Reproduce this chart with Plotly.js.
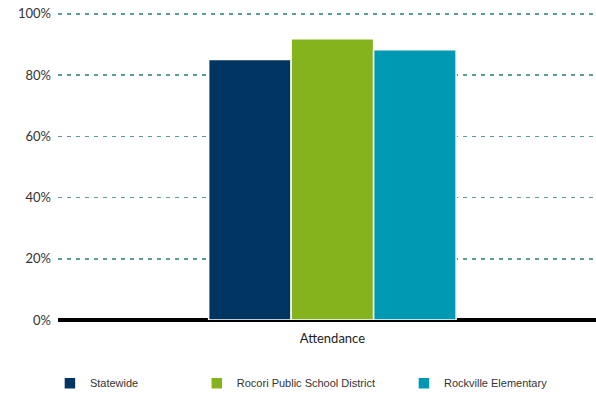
<!DOCTYPE html>
<html>
<head>
<meta charset="utf-8">
<script src="https://cdn.plot.ly/plotly-3.0.1.min.js"></script>
<style>html,body{margin:0;padding:0;background:#fff;}#chart{width:596px;height:398px;}</style>
</head>
<body>
<div id="chart"></div>
<script>
const categories = ["Attendance"];
const seriesNames = ["Statewide", "Rocori Public School District", "Rockville Elementary"];
const statewide = [85.1];
const rocori = [91.9];
const rockville = [88.3];
const yTickVals = [0, 20, 40, 60, 80, 100];
const yTickText = ["0%", "20%", "40%", "60%", "80%", "100%"];

const colors = ["#003562", "#84b31e", "#0099b3"];
const values = [statewide, rocori, rockville];
const legendIds = ["legend", "legend2", "legend3"];

const traces = seriesNames.map((name, i) => ({
  type: "bar",
  name: name,
  x: categories,
  y: values[i],
  marker: { color: colors[i], line: { color: "#ffffff", width: 1.5 } },
  legend: legendIds[i],
  hoverinfo: "skip"
}));

const legendFont = { family: "Liberation Sans, Arial, sans-serif", size: 11, color: "#333333" };
const mkLegend = (x) => ({
  x: x, y: -0.205, xanchor: "left", yanchor: "middle",
  orientation: "h", font: legendFont, bgcolor: "rgba(0,0,0,0)",
  itemwidth: 30, borderwidth: 0
});

const layout = {
  width: 596, height: 398,
  margin: { l: 58, r: 0, t: 12, b: 73, pad: 0 },
  paper_bgcolor: "#ffffff", plot_bgcolor: "#ffffff",
  barmode: "group", bargap: 0.54, bargroupgap: 0,
  showlegend: true,
  legend: mkLegend(-0.015),
  legend2: mkLegend(0.258),
  legend3: mkLegend(0.643),
  xaxis: {
    type: "category", range: [-0.51, 0.49],
    showgrid: false, showline: false, zeroline: false,
    ticks: "", ticklen: 0, ticklabelstandoff: 9,
    tickfont: { family: "Lato, Carlito, sans-serif", size: 13, color: "#222222" },
    fixedrange: true
  },
  yaxis: {
    range: [0, 100.6], tickvals: yTickVals, ticktext: yTickText,
    showgrid: true, gridcolor: "#5b9b98", gridwidth: 1.6, griddash: "4px,5px",
    zeroline: true, zerolinecolor: "#000000", zerolinewidth: 4,
    showline: false, ticks: "", ticklabelstandoff: 6,
    tickfont: { family: "Lato, Carlito, sans-serif", size: 13, color: "#333333" },
    fixedrange: true
  }
};

Plotly.newPlot("chart", traces, layout, { displayModeBar: false, staticPlot: true });
</script>
</body>
</html>
